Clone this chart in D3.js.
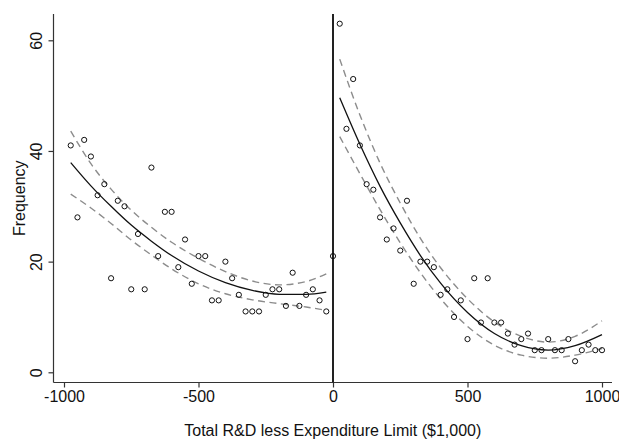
<!DOCTYPE html>
<html>
<head>
<meta charset="utf-8">
<script src="https://cdn.jsdelivr.net/npm/d3@7"></script>
<style>
  body { margin: 0; background: #fff; }
  svg { display: block; font-family: "Liberation Sans", Arial, sans-serif; }
</style>
</head>
<body>
<div id="chart"></div>
<script>
// Frequency of firms by distance to the expenditure limit, with quadratic fits and bands

var leftBins = [-975, -950, -925, -900, -875, -850, -825, -800, -775, -750, -725, -700, -675, -650, -625, -600, -575, -550, -525, -500, -475, -450, -425, -400, -375, -350, -325, -300, -275, -250, -225, -200, -175, -150, -125, -100, -75, -50, -25];
var leftFreq = [41, 28, 42, 39, 32, 34, 17, 31, 30, 15, 25, 15, 37, 21, 29, 29, 19, 24, 16, 21, 21, 13, 13, 20, 17, 14, 11, 11, 11, 14, 15, 15, 12, 18, 12, 14, 15, 13, 11];
var cutBin = [0];
var cutFreq = [21];
var rightBins = [25, 50, 75, 100, 125, 150, 175, 200, 225, 250, 275, 300, 325, 350, 375, 400, 425, 450, 475, 500, 525, 550, 575, 600, 625, 650, 675, 700, 725, 750, 775, 800, 825, 850, 875, 900, 925, 950, 975, 1000];
var rightFreq = [63, 44, 53, 41, 34, 33, 28, 24, 26, 22, 31, 16, 20, 20, 19, 14, 15, 10, 13, 6, 17, 9, 17, 9, 9, 7, 5, 6, 7, 4, 4, 6, 4, 4, 6, 2, 4, 5, 4, 4];

// fitted curve and band
var leftFitX = [-975, -900, -825, -750, -675, -600, -500, -400, -300, -200, -100, -25];
var leftFit = [37.9, 33.7, 30.0, 26.6, 23.7, 21.1, 18.3, 16.2, 14.8, 14.1, 14.1, 14.5];
var leftUpper = [43.6, 37.7, 33.1, 29.3, 26.2, 23.5, 20.6, 18.2, 16.5, 15.8, 16.4, 17.8];
var leftLower = [32.2, 29.7, 26.9, 23.9, 21.2, 18.7, 16.0, 14.2, 13.1, 12.4, 11.8, 11.2];

var rightFitX = [25, 100, 175, 250, 325, 400, 500, 600, 700, 800, 900, 1000];
var rightFit = [49.6, 41.2, 33.6, 27.0, 21.1, 16.1, 10.8, 7.0, 4.8, 4.0, 4.8, 6.8];
var rightUpper = [56.6, 46.5, 37.8, 30.6, 24.2, 18.9, 13.3, 9.1, 6.5, 5.45, 6.5, 9.3];
var rightLower = [42.6, 35.9, 29.4, 23.4, 18.0, 13.3, 8.3, 4.9, 3.1, 2.55, 3.1, 4.3];

var xTicks = [-1000, -500, 0, 500, 1000];
var yTicks = [0, 20, 40, 60];

var W = 619, H = 441;
var plotLeft = 53.5, plotRight = 612, plotTop = 14, plotBottom = 382.5;

var svg = d3.select("#chart").append("svg")
    .attr("width", W)
    .attr("height", H);

var xScale = d3.scaleLinear().domain([-1000, 1000]).range([64, 602]);
var yScale = d3.scaleLinear().domain([0, 60]).range([372.3, 40.3]);

// x axis
var xAxis = d3.axisBottom(xScale).tickValues(xTicks).tickSize(5).tickSizeOuter(0).tickFormat(d3.format("d"));
var gx = svg.append("g")
    .attr("transform", "translate(0," + plotBottom + ")")
    .call(xAxis);
gx.select(".domain").remove();
gx.append("line")
    .attr("x1", plotLeft).attr("x2", plotRight)
    .attr("y1", 0).attr("y2", 0)
    .attr("stroke", "#333").attr("stroke-width", 1.2);
gx.selectAll(".tick line").attr("stroke", "#333").attr("stroke-width", 1.2);
gx.selectAll(".tick text")
    .attr("fill", "#111")
    .attr("font-size", 16)
    .attr("font-family", "Liberation Sans, Arial, sans-serif")
    .attr("y", 8)
    .text(function(d) { return d < 0 ? "-" + Math.abs(d) : d; });

// y axis with rotated labels
var yAxis = d3.axisLeft(yScale).tickValues(yTicks).tickSize(5).tickSizeOuter(0);
var gy = svg.append("g")
    .attr("transform", "translate(" + plotLeft + ",0)")
    .call(yAxis);
gy.select(".domain").remove();
gy.append("line")
    .attr("x1", 0).attr("x2", 0)
    .attr("y1", plotTop).attr("y2", plotBottom)
    .attr("stroke", "#333").attr("stroke-width", 1.2);
gy.selectAll(".tick line").attr("stroke", "#333").attr("stroke-width", 1.2);
gy.selectAll(".tick text")
    .attr("fill", "#111")
    .attr("font-size", 16)
    .attr("font-family", "Liberation Sans, Arial, sans-serif")
    .attr("transform", "rotate(-90)")
    .attr("text-anchor", "middle")
    .attr("x", 0)
    .attr("y", -12)
    .attr("dy", 0);

// cutoff line
svg.append("line")
    .attr("x1", xScale(0)).attr("x2", xScale(0))
    .attr("y1", plotTop).attr("y2", plotBottom)
    .attr("stroke", "#222").attr("stroke-width", 2);

// bands and fits
var lineGen = d3.line()
    .x(function(d) { return xScale(d[0]); })
    .y(function(d) { return yScale(d[1]); })
    .curve(d3.curveMonotoneX);

function pairs(xs, ys) {
    return xs.map(function(x, i) { return [x, ys[i]]; });
}

[[leftFitX, leftUpper], [leftFitX, leftLower], [rightFitX, rightUpper], [rightFitX, rightLower]].forEach(function(s) {
    svg.append("path")
        .attr("d", lineGen(pairs(s[0], s[1])))
        .attr("fill", "none")
        .attr("stroke", "#8c8c8c")
        .attr("stroke-width", 1.4)
        .attr("stroke-dasharray", "7,4.5");
});

[[leftFitX, leftFit], [rightFitX, rightFit]].forEach(function(s) {
    svg.append("path")
        .attr("d", lineGen(pairs(s[0], s[1])))
        .attr("fill", "none")
        .attr("stroke", "#111")
        .attr("stroke-width", 1.3);
});

// points
var pts = pairs(leftBins, leftFreq).concat(pairs(cutBin, cutFreq)).concat(pairs(rightBins, rightFreq));
svg.selectAll("circle.pt")
    .data(pts)
    .join("circle")
    .attr("class", "pt")
    .attr("cx", function(d) { return xScale(d[0]); })
    .attr("cy", function(d) { return yScale(d[1]); })
    .attr("r", 2.6)
    .attr("fill", "none")
    .attr("stroke", "#111")
    .attr("stroke-width", 1);

// axis titles
svg.append("text")
    .attr("x", (plotLeft + plotRight) / 2)
    .attr("y", 436)
    .attr("text-anchor", "middle")
    .attr("font-size", 16)
    .attr("fill", "#111")
    .text("Total R&D less Expenditure Limit ($1,000)");

svg.append("text")
    .attr("transform", "translate(25," + ((plotTop + plotBottom) / 2) + ") rotate(-90)")
    .attr("text-anchor", "middle")
    .attr("font-size", 16)
    .attr("fill", "#111")
    .text("Frequency");
</script>
</body>
</html>
